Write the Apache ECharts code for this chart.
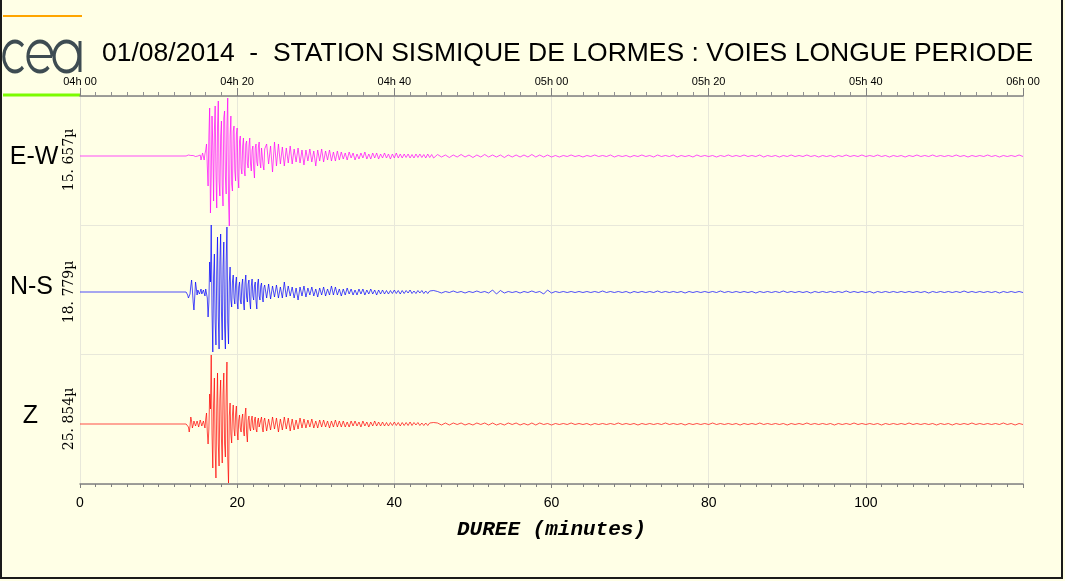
<!DOCTYPE html>
<html><head><meta charset="utf-8">
<script src="https://cdn.jsdelivr.net/npm/echarts@6/dist/echarts.min.js"></script>
<style>html,body{margin:0;padding:0;background:#FFFFE6}#c{width:1065px;height:581px}</style>
</head><body><div id="c"></div><script>
// ---- data (amplitude units: full band = +/-65) ----
const channels = ['E-W', 'N-S', 'Z'];
const scaleLabels = ['15. 657\u00b5', '18. 779\u00b5', '25. 854\u00b5'];
const topTickLabels = ['04h 00', '04h 20', '04h 40', '05h 00', '05h 20', '05h 40', '06h 00'];
const titleText = '01/08/2014  -  STATION SISMIQUE DE LORMES : VOIES LONGUE PERIODE';
const xAxisName = 'DUREE (minutes)';

// sampling of the three recorded segments (minutes)
const segStart = 13.6;
const segSteps = [0.1, 0.25, 0.5];

// E-W
const ewA = [0,0.5,1,-0.5,-1,0.5,1,-1,0.5,0,
 1,-0.5,1,-2,0,2,-1,1,-4,-6,
 3,1,-4,2,6,12,-10,-30,20,48,
 -57,-20,40,10,-45,25,50,-15,-52,30,
 55,-25,-40,20,35,-30,-50,38,45,-20,
 -38,30,58,-45,-70,20,40,-28,-35,25,
 30,-15,-25,22,28,-20,-32,15,20,-12,
 -18,10,18,-14,-20,12,15,-8,-12,10,
 18,-8,-15,6,10,-12,-22,8,12,-6,
 -10,9,14,-6,-12,8,10,-9,-14,7];
const ewB = [12,-8,10,-16,14,-10,12,-8,9,-10,
 8,-7,10,-8,7,-6,8,-7,6,-9,
 6,-5,7,-6,5,-10,6,-5,7,-6,
 5,-4,6,-5,4,-5,5,-4,4,-3,
 3,-4,4,-2,3,-4,2,-3,3,-2,
 4,-3,2,-3,3,-2,3,-3,2,-2,
 3,-2,2,-3,2,-2,3,-2,2,-2,
 2,-1.5,2,-2,1.5,-2,2,-1.5,2,-1.5,
 1.5,-2,2,-1.5,1.5,-2];
const ewC = [1.5,-1,1,-1.5,1,-1,1.5,-1,1,-1.5,
 1,-1,1.5,-1,1,-1,1,-1.5,1,-1,
 1,-1,1,-1,1.5,-1,1,-1,1,-1,
 0.5,-1,0.5,-0.5,1,-0.5,0.5,-1,0.5,-0.5, 1,-0.5,0.5,-0.5,1,-1,0.5,-0.5,0.5,-1,
 0.5,-0.5,1,-0.5,0.5,-1,1,-0.5,0.5,-0.5, 1,-1,0.5,-0.5,0.5,-1,1,-0.5,0.5,-0.5,
 0.5,-1,0.5,-0.5,1,-0.5,0.5,-0.5,1,-0.5, 0.5,-0.5,1,-1,0.5,-0.5,0.5,-1,0.5,-0.5,
 1,-0.5,0.5,-0.5,1,-0.5,0.5,-1,0.5,-0.5, 0.5,-1,0.5,-0.5,1,-0.5,0.5,-0.5,1,-0.5,
 0.5,-0.5,1,-0.5,0.5,-1,0.5,-0.5,0.5,-1, 0.5,-0.5,1,-0.5,0.5,-0.5,1,-0.5,0.5,-0.5,
 0.5,-0.5,1,-0.5,0.5,-1,0.5,-0.5,0.5,-0.5, 1,-0.5,0.5,-1,0.5,-0.5,0.5,-0.5,1,-0.5];

// N-S
const nsA = [-1,-3,-6,-8,-2,6,12,2,-10,-18,
 -5,10,4,-3,2,3,-2,-1,3,-2,
 -3,2,1,-4,3,5,-6,-25,-10,30,
 10,67,-20,-60,15,38,-30,-53,20,55,
 -25,-57,30,58,-20,-48,25,50,-35,-57,
 30,65,-30,-52,10,25,-8,-15,10,17,
 -6,-12,8,15,-10,-17,5,10,-8,-12,
 7,13,-10,-18,9,17,-5,-10,8,12,
 -9,-17,6,13,-4,-8,6,10,-9,-17,
 8,13,-4,-8,6,9,-5,-10,4,7];
const nsB = [-6,8,-7,6,-5,7,-6,5,-6,10,
 -5,6,-4,5,-6,4,-8,5,-4,6,
 -5,4,-3,5,-4,3,-5,4,-3,5,
 -4,3,-3,6,-3,5,-3,3,-4,3,
 -3,4,-2,3,-3,2,-3,3,-2,3,
 -3,2,-2,3,-2,2,-3,2,-2,2,
 -2,1.5,-2,1.5,-1.5,2,-1.5,1.5,-2,1.5,
 -1.5,1.5,-1,2,-1.5,1,-1.5,1.5,-1,1.5,
 -1.5,1,-1.5,1,-1,1.5];
const nsC = [0.5,-1,0.5,-0.5,1,-0.5,0.5,-1,0.5,-0.5,
 1,-0.5,0.5,-1,2,-2,1.5,-1,0.5,-0.5,
 0.5,-1,0.5,-0.5,1,-0.5,0.5,-2,2,-1,
 0.5,-0.5,0.5,-0.5,0.5,-0.5,0.5,-0.5,0.5,-0.5, 0.5,-0.5,1,-0.5,0.5,-0.5,0.5,-0.5,0.5,-1,
 0.5,-0.5,0.5,-0.5,0.5,-0.5,1,-0.5,0.5,-0.5, 0.5,-0.5,0.5,-1,0.5,-0.5,0.5,-0.5,0.5,-0.5,
 0.5,-0.5,1,-0.5,0.5,-0.5,0.5,-0.5,0.5,-0.5, 0.5,-1,0.5,-0.5,0.5,-0.5,0.5,-0.5,1,-0.5,
 0.5,-0.5,0.5,-0.5,0.5,-1,0.5,-0.5,0.5,-0.5, 0.5,-0.5,0.5,-0.5,1,-0.5,0.5,-0.5,0.5,-0.5,
 0.5,-1,0.5,-0.5,0.5,-0.5,0.5,-0.5,0.5,-0.5, 0.5,-0.5,0.5,-0.5,0.5,-1,0.5,-0.5,0.5,-0.5,
 0.5,-0.5,0.5,-0.5,1,-0.5,0.5,-0.5,0.5,-0.5, 0.5,-0.5,0.5,-1,0.5,-0.5,0.5,-0.5,0.5,-0.5];

// Z
const zA = [0,0,-3,-8,-2,7,3,-4,-1,3,
 1,-2,-1,3,1,-3,-2,4,2,-2,
 -1,3,1,-4,5,11,-8,-20,-5,30,
 15,69,-10,-44,20,46,-25,-54,15,51,
 -20,-42,25,44,-15,-39,30,51,-20,-33,
 28,62,-35,-59,8,21,-10,-19,9,19,
 -5,-12,10,18,-7,-16,4,9,-4,-8,
 5,10,-6,-12,9,16,-9,-18,4,8,
 -4,-7,4,8,-3,-6,4,7,-5,-8,
 3,6,-3,-5,4,7,-4,-8,3,6];
const zB = [-7,5,-6,7,-5,6,-8,5,-6,7,
 -5,6,-7,5,-6,4,-5,6,-4,5,
 -4,4,-3,5,-4,3,-4,4,-3,4,
 -3,3,-4,3,-3,4,-3,3,-3,3,
 -3,2,-3,3,-2,3,-2,2,-3,3,
 -2,2,-3,2,-2,3,-2,2,-2,2,
 -2,1.5,-2,1.5,-1.5,2,-1.5,1.5,-2,1.5,
 -1.5,1.5,-1.5,2,-1.5,1.5,-1,1.5,-1.5,1,
 -1.5,1,-1.5,1,-1,1.5];
const zC = [1,-1,1,-1,1,-0.5,1,-1,0.5,-1,
 1,-0.5,1,-1,1,-1,0.5,-1,1,-0.5,
 1,-1,0.5,-1,1,-1,1,-0.5,0.5,-1,
 0.5,-0.5,0.5,-0.5,1,-0.5,0.5,-0.5,0.5,-1, 0.5,-0.5,0.5,-0.5,0.5,-0.5,1,-0.5,0.5,-0.5,
 0.5,-1,0.5,-0.5,0.5,-0.5,0.5,-0.5,1,-0.5, 0.5,-0.5,0.5,-1,0.5,-0.5,0.5,-0.5,0.5,-0.5,
 1,-0.5,0.5,-0.5,0.5,-0.5,0.5,-1,0.5,-0.5, 0.5,-0.5,1,-0.5,0.5,-0.5,0.5,-0.5,0.5,-1,
 0.5,-0.5,0.5,-0.5,1,-0.5,0.5,-0.5,0.5,-0.5, 0.5,-1,0.5,-0.5,0.5,-0.5,1,-0.5,0.5,-0.5,
 0.5,-0.5,0.5,-1,0.5,-0.5,0.5,-0.5,0.5,-0.5, 1,-0.5,0.5,-0.5,0.5,-0.5,0.5,-1,0.5,-0.5,
 0.5,-1,0.5,-0.5,0.5,-0.5,1,-0.5,0.5,-0.5, 0.5,-0.5,0.5,-0.5,1,-0.5,0.5,-1,0.5,-0.5];

function buildTrace(segs) {
  const pts = [[0, 0], [segStart - segSteps[0], 0]];
  let t = segStart - segSteps[0];
  segs.forEach((vals, s) => {
    vals.forEach(v => { t += segSteps[s]; if (t <= 120.001) pts.push([+t.toFixed(3), v]); });
  });
  return pts;
}
const traces = [buildTrace([ewA, ewB, ewC]), buildTrace([nsA, nsB, nsC]), buildTrace([zA, zB, zC])];
const colors = ['#FF00FF', '#0000FF', '#FF0000'];
const baselines = [156, 292, 424];

// ---- chart ----
const chart = echarts.init(document.getElementById('c'), null, {renderer: 'canvas'});
const gridCol = '#E8E8DA';
const grids = [{left: 80, right: 42, top: 96, bottom: 97}];
const xAxes = [
  {gridIndex: 0, type: 'value', min: 0, max: 120, interval: 20, position: 'bottom',
   axisLine: {lineStyle: {color: '#808080', width: 1.5}},
   axisTick: {length: 4, lineStyle: {color: '#808080'}},
   minorTick: {show: true, splitNumber: 10, length: 3, lineStyle: {color: '#808080'}},
   splitLine: {show: true, lineStyle: {color: gridCol, width: 1}},
   axisLabel: {margin: 12, color: '#000', fontSize: 14, fontFamily: 'Liberation Sans',
     formatter: v => (v >= 120 ? '' : String(v))},
   name: xAxisName, nameLocation: 'middle', nameGap: 35,
   nameTextStyle: {fontFamily: 'Liberation Mono', fontWeight: 'bold', fontStyle: 'italic', fontSize: 21, color: '#000'}},
  {gridIndex: 0, type: 'value', min: 0, max: 120, interval: 20, position: 'top',
   axisLine: {lineStyle: {color: '#808080', width: 1.5}},
   axisTick: {length: 8, lineStyle: {color: '#808080'}},
   minorTick: {show: true, splitNumber: 10, length: 4, lineStyle: {color: '#909090'}},
   splitLine: {show: false},
   axisLabel: {margin: 9, color: '#000', fontSize: 11, fontFamily: 'Liberation Sans',
     formatter: v => topTickLabels[Math.round(v / 20)]}}
];
const yAxes = [{gridIndex: 0, type: 'value', min: 0, max: 3, interval: 1,
  axisLine: {show: false}, axisTick: {show: false}, axisLabel: {show: false},
  splitLine: {show: true, lineStyle: {color: gridCol, width: 1}}}];
const series = [];
traces.forEach((tr, k) => {
  grids.push({left: 80, right: 42, top: baselines[k] - 65, height: 130});
  xAxes.push({gridIndex: k + 1, type: 'value', min: 0, max: 120, show: false});
  yAxes.push({gridIndex: k + 1, type: 'value', min: -65, max: 65, show: false});
  series.push({type: 'line', name: channels[k], xAxisIndex: k + 2, yAxisIndex: k + 1, data: tr,
    showSymbol: false, symbol: 'none', clip: false, silent: true,
    lineStyle: {color: colors[k], width: 0.7}});
});

const logoCol = '#3E4C52';
const logoStyle = {stroke: logoCol, lineWidth: 4, fill: 'none'};
const graphic = [
  {type: 'polyline', shape: {points: [[1, 0], [1, 578], [1062, 578], [1062, 0]]}, style: {stroke: '#1a1a1a', lineWidth: 2, fill: 'none'}},
  {type: 'line', shape: {x1: 3, y1: 16, x2: 82, y2: 16}, style: {stroke: '#FFA500', lineWidth: 2}},
  {type: 'line', shape: {x1: 3, y1: 95, x2: 81, y2: 95}, style: {stroke: '#7CFC00', lineWidth: 3}},
  {type: 'arc', x: 15, y: 56.5, scaleX: 0.75, shape: {cx: 0, cy: 0, r: 15, startAngle: Math.PI / 4, endAngle: Math.PI * 7 / 4, clockwise: true}, style: logoStyle},
  {type: 'arc', x: 40, y: 56.5, scaleX: 0.8, shape: {cx: 0, cy: 0, r: 15, startAngle: Math.PI / 4, endAngle: Math.PI * 2, clockwise: true}, style: logoStyle},
  {type: 'line', shape: {x1: 28, y1: 56.5, x2: 52, y2: 56.5}, style: {stroke: logoCol, lineWidth: 3}},
  {type: 'arc', x: 66.5, y: 56.5, scaleX: 0.83, shape: {cx: 0, cy: 0, r: 15, startAngle: 0, endAngle: Math.PI * 2, clockwise: true}, style: logoStyle},
  {type: 'line', shape: {x1: 80, y1: 41, x2: 80, y2: 72}, style: {stroke: logoCol, lineWidth: 3}},
  {type: 'text', x: 102, y: 54, style: {text: titleText, font: '26.5px "Liberation Sans"', fill: '#000', textAlign: 'left', textVerticalAlign: 'middle'}}
];
const chanX = [34, 31.5, 30.5], chanY = [157, 287, 416], scaleY = [160, 292, 419];
channels.forEach((c, k) => {
  graphic.push({type: 'text', x: chanX[k], y: chanY[k], style: {text: c, font: '25px "Liberation Sans"', fill: '#000', textAlign: 'center', textVerticalAlign: 'middle'}});
  graphic.push({type: 'text', x: 69, y: scaleY[k], rotation: Math.PI / 2, style: {text: scaleLabels[k], font: '14px "DejaVu Serif"', fill: '#000', textAlign: 'center', textVerticalAlign: 'middle'}});
});

chart.setOption({
  backgroundColor: '#FFFFE6',
  animation: false,
  grid: grids, xAxis: xAxes, yAxis: yAxes, series: series, graphic: graphic
});
</script></body></html>
